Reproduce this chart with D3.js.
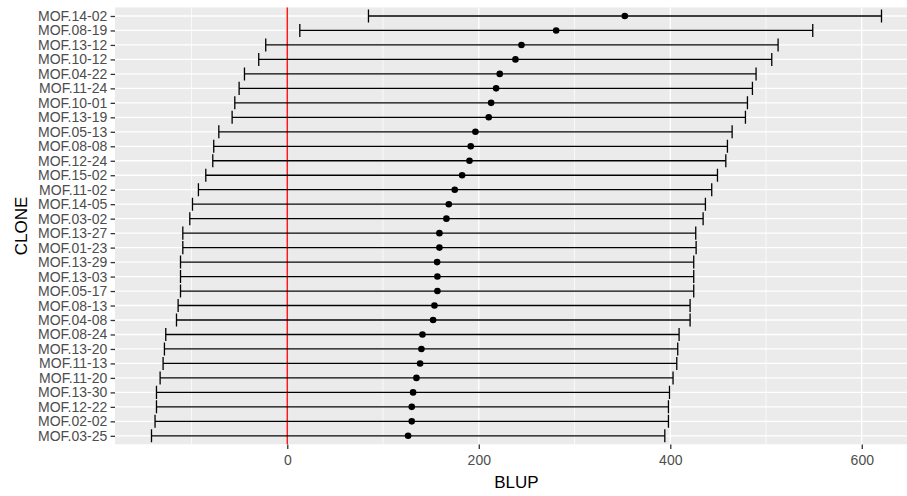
<!DOCTYPE html>
<html>
<head>
<meta charset="utf-8">
<script src="https://cdn.jsdelivr.net/npm/d3@7"></script>
<style>
  html, body { margin: 0; padding: 0; background: #fff; overflow: hidden; }
  svg { display: block; }
  text { font-family: "Liberation Sans", Arial, sans-serif; }
</style>
</head>
<body>
<svg id="chart" width="907" height="496"></svg>
<script>
const clones = ["MOF.14-02","MOF.08-19","MOF.13-12","MOF.10-12","MOF.04-22","MOF.11-24","MOF.10-01","MOF.13-19","MOF.05-13","MOF.08-08","MOF.12-24","MOF.15-02","MOF.11-02","MOF.14-05","MOF.03-02","MOF.13-27","MOF.01-23","MOF.13-29","MOF.13-03","MOF.05-17","MOF.08-13","MOF.04-08","MOF.08-24","MOF.13-20","MOF.11-13","MOF.11-20","MOF.13-30","MOF.12-22","MOF.02-02","MOF.03-25"];
const blup  = [352.5,280.8,244.6,238.3,221.9,218.1,212.9,210.4,196.5,191.6,190.3,182.6,174.9,168.7,166.2,158.9,158.9,156.5,156.8,156.8,153.7,152.3,141.2,140.1,138.7,134.9,131.4,130.0,130.0,126.2];
const lower = [84.8,13.1,-22.5,-29.8,-44.7,-50.3,-54.8,-57.6,-71.5,-76.8,-77.8,-85.1,-92.8,-99.0,-101.8,-109.1,-109.1,-111.5,-111.5,-111.5,-114.0,-115.7,-126.9,-128.3,-129.7,-132.8,-136.6,-136.6,-138.1,-141.8];
const upper = [620.6,548.8,512.6,506.0,489.6,485.8,480.6,478.5,464.6,459.7,458.0,449.3,443.3,436.7,434.3,426.6,427.0,424.5,424.5,424.5,420.7,420.7,409.2,407.8,406.8,402.9,399.2,398.1,398.1,394.3];
const xTicks = [0, 200, 400, 600];
const xMinor = [-100, 100, 300, 500];
const refLine = 0;

const svg = d3.select("#chart");
const W = 907, H = 496;
// panel extends past the right edge of the picture (cropped, as in the reference)
const panel = { left: 115, right: 918, top: 7.3, bottom: 444.5 };

// x scale with ggplot-like 5% expansion of the data range
const lo = d3.min(lower), hi = d3.max(upper), pad = (hi - lo) * 0.05;
const x = d3.scaleLinear().domain([lo - pad, hi + pad]).range([panel.left, panel.right]);

// discrete y with ggplot-like 0.6 expansion
const n = clones.length;
const step = (panel.bottom - panel.top) / (n - 1 + 1.2);
const y = d3.scalePoint().domain(clones)
  .range([panel.top + 0.6 * step, panel.bottom - 0.6 * step]);

const clipW = W - panel.left;
svg.append("defs").append("clipPath").attr("id", "pclip")
  .append("rect").attr("x", panel.left).attr("y", panel.top)
  .attr("width", clipW).attr("height", panel.bottom - panel.top);

const P = svg.append("g").attr("clip-path", "url(#pclip)");

// panel background
P.append("rect")
  .attr("x", panel.left).attr("y", panel.top)
  .attr("width", clipW).attr("height", panel.bottom - panel.top)
  .attr("fill", "#EBEBEB");

P.selectAll("line.minor").data(xMinor).join("line").attr("class", "minor")
  .attr("x1", d => x(d)).attr("x2", d => x(d))
  .attr("y1", panel.top).attr("y2", panel.bottom)
  .attr("stroke", "#fff").attr("stroke-width", 0.7);
P.selectAll("line.majx").data(xTicks).join("line").attr("class", "majx")
  .attr("x1", d => x(d)).attr("x2", d => x(d))
  .attr("y1", panel.top).attr("y2", panel.bottom)
  .attr("stroke", "#fff").attr("stroke-width", 1.3);
P.selectAll("line.majy").data(clones).join("line").attr("class", "majy")
  .attr("x1", panel.left).attr("x2", panel.left + clipW)
  .attr("y1", d => y(d)).attr("y2", d => y(d))
  .attr("stroke", "#fff").attr("stroke-width", 1.3);

// reference line at 0
P.append("line")
  .attr("x1", x(refLine)).attr("x2", x(refLine))
  .attr("y1", panel.top).attr("y2", panel.bottom)
  .attr("stroke", "#FF1A1A").attr("stroke-width", 1.5);

// error bars
const capH = 0.9 * step / 2;
const eb = P.append("g").attr("stroke", "#000").attr("stroke-width", 1.3);
clones.forEach((c, i) => {
  const yy = y(c);
  eb.append("line").attr("x1", x(lower[i])).attr("x2", x(upper[i])).attr("y1", yy).attr("y2", yy);
  eb.append("line").attr("x1", x(lower[i])).attr("x2", x(lower[i])).attr("y1", yy - capH).attr("y2", yy + capH);
  eb.append("line").attr("x1", x(upper[i])).attr("x2", x(upper[i])).attr("y1", yy - capH).attr("y2", yy + capH);
});

// points
P.append("g").selectAll("circle").data(clones).join("circle")
  .attr("cx", (d, i) => x(blup[i])).attr("cy", d => y(d))
  .attr("r", 3.3).attr("fill", "#000");

// axes
const xAxis = d3.axisBottom(x).tickValues(xTicks).tickSize(4.4).tickPadding(6.1);
const gx = svg.append("g").attr("transform", `translate(0,${panel.bottom})`).call(xAxis);
gx.select(".domain").remove();
gx.selectAll(".tick line").attr("stroke", "#333").attr("stroke-width", 1.3);
gx.selectAll(".tick text").attr("fill", "#4D4D4D").style("font-size", "14px")
  .style("font-family", '"Liberation Sans", Arial, sans-serif');

const yAxis = d3.axisLeft(y).tickSize(4.4).tickPadding(3.3);
const gy = svg.append("g").attr("transform", `translate(${panel.left},0)`).call(yAxis);
gy.select(".domain").remove();
gy.selectAll(".tick line").attr("stroke", "#333").attr("stroke-width", 1.3);
gy.selectAll(".tick text").attr("fill", "#4D4D4D").style("font-size", "14px")
  .style("font-family", '"Liberation Sans", Arial, sans-serif');

// axis titles
svg.append("text")
  .attr("x", (panel.left + panel.right) / 2).attr("y", 488)
  .attr("text-anchor", "middle").attr("fill", "#000")
  .style("font-size", "17px").text("BLUP");

svg.append("text")
  .attr("transform", `translate(26.7,${(panel.top + panel.bottom) / 2}) rotate(-90)`)
  .attr("text-anchor", "middle").attr("fill", "#000")
  .style("font-size", "17px").text("CLONE");
</script>
</body>
</html>
